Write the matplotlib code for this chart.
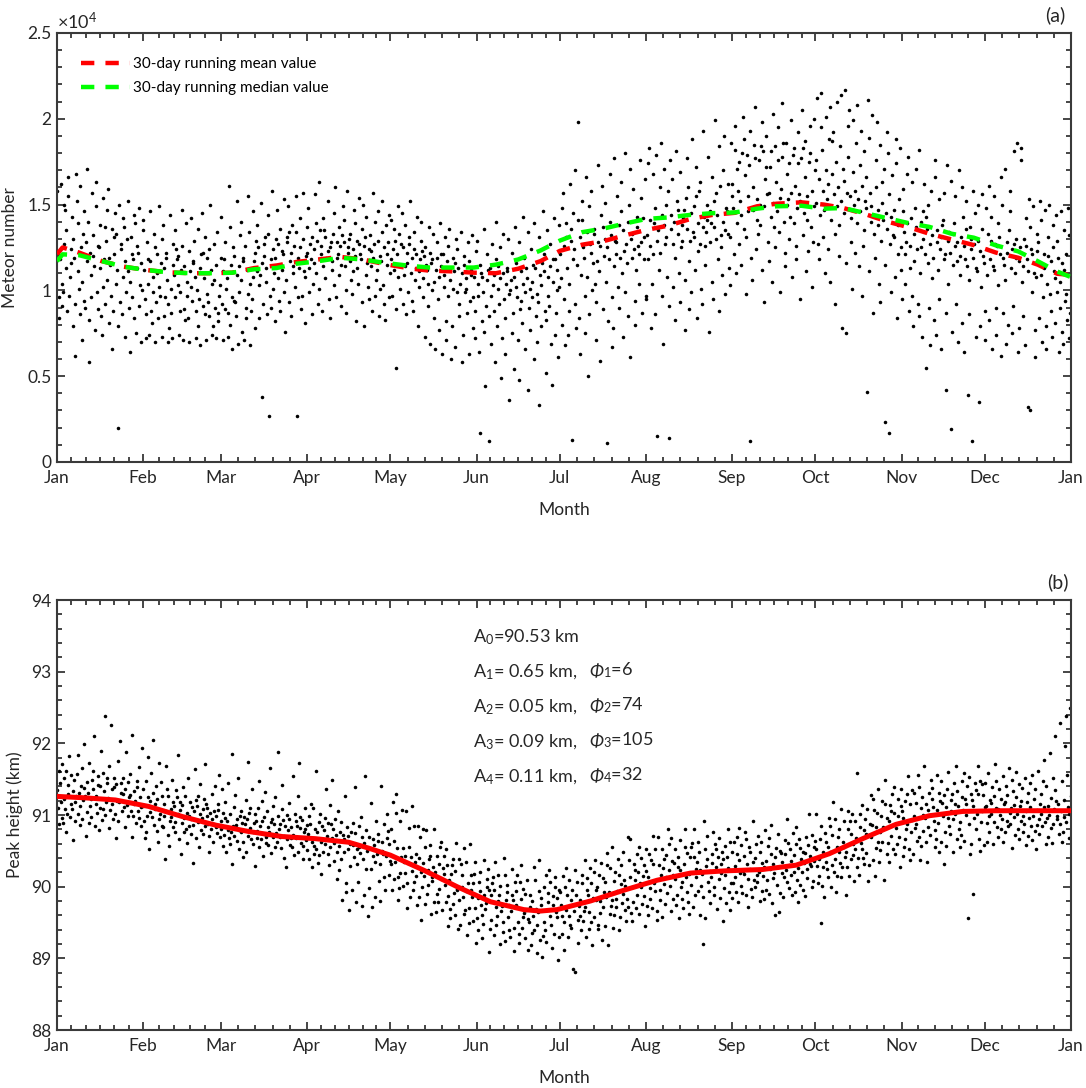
import itertools
import numpy as np
import matplotlib
matplotlib.use('Agg')
import matplotlib.pyplot as plt
from matplotlib.ticker import FixedLocator

plt.rcParams['font.family'] = ['Lato', 'DejaVu Sans']
plt.rcParams['mathtext.fontset'] = 'custom'
plt.rcParams['mathtext.rm'] = 'Lato'
plt.rcParams['mathtext.it'] = 'Lato:italic'

# month axis
month_starts = [0, 31, 59, 90, 120, 151, 181, 212, 243, 273, 304, 334, 365]
month_labels = ['Jan', 'Feb', 'Mar', 'Apr', 'May', 'Jun',
                'Jul', 'Aug', 'Sep', 'Oct', 'Nov', 'Dec', 'Jan']
minor_parts = [6, 5, 5, 6, 5, 6, 5, 5, 6, 5, 5, 5]

# (a) 30-day running mean / median (x10^4)
run_days = [0, 2, 8, 16, 24, 32, 40, 48, 55, 63, 71, 79, 86, 94, 102, 110, 118,
            127, 134, 142, 150, 158, 166, 174, 181, 189, 197, 204, 212, 220, 228,
            236, 244, 252, 259, 268, 276, 283, 291, 299, 307, 314, 322, 330, 338,
            346, 353, 360, 365]
run_mean = [1.21, 1.25, 1.22, 1.171, 1.138, 1.119, 1.105, 1.10, 1.10, 1.103, 1.13,
            1.145, 1.165, 1.18, 1.195, 1.18, 1.153, 1.128, 1.115, 1.111, 1.103, 1.10,
            1.126, 1.17, 1.23, 1.266, 1.288, 1.319, 1.352, 1.377, 1.416, 1.44, 1.452,
            1.49, 1.505, 1.513, 1.50, 1.48, 1.444, 1.40, 1.366, 1.33, 1.297, 1.264,
            1.22, 1.19, 1.15, 1.097, 1.09]
run_median = [1.17, 1.21, 1.205, 1.171, 1.138, 1.119, 1.105, 1.10, 1.10, 1.103, 1.123,
              1.13, 1.155, 1.17, 1.19, 1.18, 1.16, 1.143, 1.133, 1.133, 1.133, 1.15,
              1.18, 1.232, 1.29, 1.339, 1.361, 1.388, 1.416, 1.425, 1.44, 1.45, 1.454,
              1.476, 1.49, 1.493, 1.476, 1.48, 1.45, 1.42, 1.39, 1.37, 1.33, 1.307,
              1.262, 1.227, 1.17, 1.11, 1.077]

# (b) harmonic fit curve (km)
fit_days = [0, 10, 21, 33, 45, 57, 69, 81, 93, 105, 112, 120, 132, 144, 156, 168,
            174, 180, 192, 204, 216, 228, 240, 254, 266, 278, 290, 302, 314, 326,
            338, 352, 365]
fit_km = [91.26, 91.24, 91.21, 91.12, 90.98, 90.86, 90.77, 90.70, 90.67, 90.62,
          90.54, 90.44, 90.23, 90.00, 89.79, 89.68, 89.66, 89.68, 89.80, 89.95,
          90.09, 90.19, 90.22, 90.24, 90.30, 90.46, 90.67, 90.87, 90.99, 91.05,
          91.06, 91.06, 91.06]

fit_text = [r'A$_0$=90.53 km', r'A$_1$= 0.65 km,', r'A$_2$= 0.05 km,',
            r'A$_3$= 0.09 km,', r'A$_4$= 0.11 km,']
phase_text = ['', r'$_1$=6', r'$_2$=74', r'$_3$=105', r'$_4$=32']

# daily meteor counts, one row per day of year, in units of 100
counts_by_day = """
158 121 96 84
162 118 104 91
150 127 99 147
166 113 88 135
155 124 97 108
143 130 79 116
168 119 92 62
152 111 101 139
161 125 86 105
146 133 94 71
171 117 90 128
140 122 83 58
157 109 96 132
149 120 77 114
163 126 99 89
138 113 85 125
154 118 74 102
147 129 92 137
159 106 81 119
136 115 66 97
145 121 88 131
133 112 79 104
150 124 20 93
142 108 86 127
137 117 73 99
152 130 90 111
131 105 64 121
144 118 84 96
139 126 75 113
148 103 91 122
135 116 70 100
141 112 72 95
128 104 86 118
146 117 88 74
133 108 81 99
125 121 93 70
149 110 84 102
130 97 73 116
138 113 85 96
122 106 70 119
144 101 92 78
127 115 72 87
135 109 96 124
120 118 74 103
147 99 88 112
126 114 89 71
139 105 83 97
123 111 70 84
142 102 94 117
129 116 72 108
136 100 88 79
121 113 68 95
145 107 91 122
131 119 71 86
124 98 93 85
150 112 74 104
127 106 79 90
134 115 87 72
119 103 82 97
143 111 71 92
128 118 89 101
161 107 87 73
137 115 80 96
125 120 94 66
152 109 93 85
132 114 99 69
140 106 76 117
126 119 90 71
155 112 84 98
134 104 88 68
146 117 95 108
129 111 78 122
138 125 84 103
151 109 38 116
127 120 92 131
144 113 86 105
133 118 27 97
158 124 101 90
130 110 82 119
147 127 94 107
136 115 88 123
153 121 99 112
131 128 76 106
149 117 93 134
138 122 85 110
155 114 102 126
134 119 27 96
142 125 89 113
157 111 97 130
137 120 81 108
148 122 99 113
131 127 86 118
156 116 104 124
139 129 92 110
163 121 101 135
142 114 88 126
135 131 107 119
152 118 95 123
128 125 84 112
145 133 103 117
160 119 96 128
137 126 109 121
149 115 91 132
141 128 100 114
158 122 87 125
133 117 106 130
147 124 98 111
139 129 82 120
154 113 104 127
136 121 93 118
150 126 79 131
143 116 102 109
132 123 95 124
157 119 88 114
140 127 97 106
146 112 85 129
134 120 101 117
152 125 92 103
138 115 83 121
144 110 96 128
141 118 97 124
136 112 55 129
149 121 89 108
127 115 101 133
145 109 92 125
138 122 86 114
131 116 99 127
152 110 94 119
134 124 88 106
143 113 79 121
129 118 102 111
140 107 96 123
125 120 73 115
137 112 91 104
122 116 69 118
133 105 84 100
128 119 66 112
139 108 77 95
121 114 63 121
131 102 82 109
126 117 71 97
136 106 60 113
119 111 79 101
130 99 67 116
124 113 85 92
134 104 58 110
120 115 74 99
128 101 87 107
117 109 63 94
132 96 78 112
123 108 72 88
129 104 64 97
115 110 17 82
136 99 76 108
121 106 44 91
112 113 12 85
127 97 69 103
140 109 58 88
118 101 79 114
125 107 49 92
133 95 72 110
111 104 84 63
130 113 36 98
122 100 75 106
137 108 87 54
116 96 71 102
128 111 48 89
143 104 81 94
119 99 66 113
134 107 90 42
124 101 77 96
139 115 60 105
113 98 85 70
131 109 33 93
146 103 79 116
121 111 52 88
135 97 83 108
127 114 69 91
142 105 45 118
118 100 87 74
138 112 61 102
148 121 80 107
157 126 95 68
139 113 74 131
162 129 88 104
145 118 13 136
170 124 92 78
198 115 84 141
152 131 63 109
141 119 97 125
166 108 75 134
149 127 86 50
158 122 100 116
136 133 71 104
173 117 93 128
144 126 59 111
161 120 89 137
151 11 105 130
168 125 82 118
140 132 96 67
177 114 78 129
155 128 102 121
146 119 90 138
163 135 73 110
180 123 99 127
150 116 85 140
171 130 61 119
159 124 94 133
143 137 80 112
176 121 104 126
154 128 87 142
165 118 97 131
174 132 95 118
183 126 78 141
168 139 104 121
179 129 86 148
15 135 112 160
186 122 97 144
171 138 69 127
158 131 108 150
14 144 91 176
165 127 102 136
181 140 83 119
152 133 110 147
169 125 93 138
147 142 77 129
177 136 106 154
160 129 89 117
188 145 99 134
155 131 112 149
172 139 84 123
163 127 101 158
193 143 92 137
150 134 115 126
178 141 76 146
166 128 105 139
199 137 95 152
157 144 118 130
184 132 88 161
170 140 109 125
190 135 98 148
162 146 113 133
186 131 103 155
182 148 121 162
196 139 110 171
175 152 127 158
201 144 115 180
188 136 98 167
179 155 131 146
193 12 119 173
185 147 106 160
207 141 124 177
176 153 133 150
198 138 112 184
181 149 93 165
190 156 128 172
172 143 117 157
203 151 105 181
184 137 125 163
195 146 134 176
178 154 99 159
209 140 122 186
186 150 114 168
174 143 130 153
199 157 108 179
183 139 126 161
192 148 118 174
177 152 95 156
205 145 132 183
187 141 111 166
196 155 123 175
180 137 102 158
200 149 128 170
212 151 127 176
195 144 118 165
215 158 131 182
201 147 110 170
188 153 124 162
207 141 105 187
192 156 133 168
210 149 92 175
184 138 120 160
214 152 78 171
217 145 75 164
196 157 116 178
205 142 128 155
199 150 101 169
186 139 122 158
208 153 114 173
193 146 97 161
181 135 126 152
211 148 41 166
189 140 111 157
202 144 87 149
176 133 119 160
198 147 104 138
185 129 93 151
171 141 115 163
192 136 23 145
180 127 17 156
167 143 99 132
188 131 108 147
174 138 84 121
183 125 112 153
159 134 95 146
168 128 104 121
178 139 88 113
163 126 97 142
148 133 79 117
171 124 92 137
182 140 85 110
146 130 73 125
162 121 55 143
150 136 90 116
158 127 68 132
176 119 83 107
166 135 74 128
153 124 95 112
141 131 66 138
157 118 42 121
173 129 87 104
164 122 19 134
139 133 76 115
155 117 92 126
170 128 70 109
160 120 81 131
143 126 64 118
152 114 39 136
137 130 86 106
158 119 12 124
145 127 73 113
150 111 35 129
136 123 79 102
156 116 88 120
148 124 71 109
161 118 83 133
143 129 66 114
155 112 90 127
139 126 74 103
166 121 62 131
150 115 87 119
171 128 69 106
146 122 80 135
158 113 75 124
181 127 91 110
186 119 64 130
183 125 78 117
176 114 85 105
142 130 68 126
153 118 32 111
137 124 30 99
149 110 77 121
133 123 61 108
152 116 84 128
141 109 70 96
147 121 79 113
131 104 66 120
150 117 88 98
138 111 73 125
144 99 81 107
129 119 64 90
146 105 76 116
135 112 69 94
148 98 83 121
132 108 72 87
"""

# daily peak height, one row per day of year, in units of 0.01 km above 88 km
heights_by_day = """
335 310 362 287
318 344 296 371
352 322 289 308
329 361 301 276
342 315 383 297
308 334 265 356
326 349 292 318
357 302 331 384
313 341 286 365
338 321 399 294
304 346 327 271
331 312 373 289
349 297 322 362
316 336 284 410
327 355 303 342
341 310 390 279
309 333 293 359
352 318 438 300
324 345 282 369
336 307 315 425
301 339 294 352
343 320 376 268
318 331 291 403
329 352 306 344
311 337 283 388
346 314 325 298
305 328 357 270
333 299 316 412
320 348 289 339
296 325 367 305
337 311 284 393
312 291 347 268
298 325 276 381
319 304 359 252
286 331 297 405
308 278 341 316
294 322 263 373
327 301 285 346
283 315 299 238
306 336 272 368
291 309 326 257
318 283 349 297
277 312 290 335
302 325 266 384
289 307 318 245
314 276 296 339
281 303 327 261
299 318 284 352
273 294 311 233
305 286 321 364
290 313 268 327
279 301 343 256
296 322 274 308
284 299 315 371
271 310 288 249
303 281 329 294
287 306 262 341
275 298 316 283
292 269 307 356
281 303 257 336
296 272 318 248
268 291 344 279
302 277 260 385
285 311 271 232
264 294 328 286
299 279 253 351
276 306 289 242
288 263 321 297
271 295 249 374
303 282 266 310
259 289 337 276
292 268 301 229
278 310 255 348
266 284 319 291
297 273 243 332
283 261 305 270
258 290 276 366
294 269 313 247
275 287 256 325
262 299 281 388
287 254 270 309
271 293 240 342
300 266 284 227
279 258 317 295
255 283 268 355
291 272 302 244
268 249 285 327
282 297 261 373
257 276 293 239
286 265 310 281
274 251 299 238
262 288 227 315
281 257 310 246
253 276 233 362
290 263 244 301
266 248 285 218
279 296 259 337
245 271 230 289
287 255 314 268
261 280 236 349
294 249 272 211
257 276 223 305
272 239 290 182
248 266 205 326
283 253 192 271
260 229 276 168
242 289 196 258
275 252 178 339
256 232 206 284
269 247 173 297
238 261 189 355
279 250 159 224
254 225 198 270
266 243 171 317
235 258 186 292
273 246 208 264
250 231 180 340
262 287 213 245
243 268 195 301
259 236 216 278
232 281 196 318
264 211 303 235
214 254 330 181
241 219 291 198
307 234 201 254
243 170 305 219
282 205 233 256
186 242 222 312
207 284 195 235
174 246 285 215
221 270 186 240
153 280 233 199
256 215 176 279
238 190 223 202
258 162 243 208
228 178 281 214
190 243 221 164
255 197 232 179
211 262 168 226
202 243 179 218
145 230 253 187
209 169 218 156
239 191 230 176
261 195 160 222
197 141 239 181
232 147 200 217
162 254 186 167
205 234 132 194
170 217 149 260
185 152 205 196
121 218 170 235
156 184 207 139
194 174 221 161
237 148 188 129
200 211 169 177
225 141 195 109
205 188 154 213
171 132 235 196
147 180 159 217
120 201 166 188
137 240 173 151
203 181 124 217
158 193 140 174
224 130 188 166
206 142 181 110
194 217 151 175
134 183 121 206
158 197 143 230
163 128 190 167
111 209 151 155
118 171 188 135
227 159 140 180
209 107 169 147
194 126 237 164
131 184 175 102
199 151 216 139
168 191 123 179
159 206 146 223
134 174 115 187
199 157 165 214
130 184 98 195
159 193 134 175
215 112 151 199
167 188 130 226
146 181 159 209
85 174 196 143
81 166 223 188
154 207 173 122
217 159 181 140
205 166 237 152
130 196 172 212
164 226 141 189
151 205 118 184
220 158 181 237
141 199 195 146
233 180 163 216
125 193 212 172
145 247 185 207
162 230 119 192
226 173 182 255
160 208 143 220
194 171 239 183
204 157 217 140
230 190 249 177
167 209 201 152
237 183 269 172
213 163 266 199
178 231 209 152
246 188 223 170
205 256 162 220
199 240 176 215
145 230 253 187
213 173 222 160
246 198 237 183
271 205 170 232
210 154 252 194
166 269 230 182
216 195 253 157
239 204 226 176
280 213 191 244
223 166 259 201
236 183 217 268
175 233 211 252
188 227 156 241
265 199 223 183
232 170 255 207
247 193 280 214
179 241 218 162
261 203 256 171
224 241 188 280
213 194 234 263
161 223 201 248
120 291 218 185
238 229 156 253
206 271 194 222
245 177 233 213
260 200 277 188
228 169 241 252
211 219 268 184
238 152 249 232
198 257 216 177
280 241 193 226
205 263 167 248
229 205 263 184
214 246 193 270
237 219 282 178
222 201 258 191
218 243 189 276
232 211 266 172
225 249 197 255
210 234 186 291
240 217 260 199
221 206 271 180
233 248 194 262
215 228 183 279
236 209 257 196
224 245 190 268
212 231 177 286
241 219 160 254
227 203 165 273
219 250 191 247
235 214 265 185
223 207 246 294
230 252 198 261
217 236 188 275
244 221 259 193
226 210 283 179
238 254 202 266
220 233 195 249
247 225 270 187
231 212 258 301
243 229 199 272
236 256 208 264
229 302 205 253
150 266 238 215
284 228 248 201
263 186 275 235
296 224 213 255
249 200 284 230
318 221 238 272
215 256 295 192
233 281 248 269
213 309 228 263
242 292 189 256
280 227 249 306
215 273 238 291
259 208 302 244
268 227 291 252
358 240 217 283
261 301 252 314
231 279 240 294
208 274 309 247
272 328 230 288
286 237 322 269
254 307 215 283
303 263 234 336
276 298 251 319
210 283 316 263
296 246 349 282
261 314 292 235
329 271 306 253
288 339 245 303
282 323 259 298
228 313 336 270
296 256 305 243
329 281 320 266
354 288 253 315
293 237 335 277
282 331 246 299
317 264 356 288
270 310 339 237
300 278 325 257
369 296 263 316
307 234 331 283
349 272 300 323
255 311 291 338
279 356 267 307
248 320 331 289
298 347 263 317
231 328 311 277
337 296 257 360
321 273 306 285
344 248 329 294
316 266 369 302
281 334 312 255
348 290 325 272
307 358 264 322
300 341 156 316
245 330 353 287
312 190 321 259
344 296 335 281
368 302 267 329
306 250 348 290
343 258 311 328
312 289 344 263
298 321 276 358
317 302 339 259
290 326 310 371
309 283 348 270
322 300 281 336
295 315 262 354
318 291 340 276
303 328 285 365
287 310 349 254
314 297 333 272
301 325 280 360
292 312 343 267
320 299 276 338
305 288 352 258
296 318 271 331
311 284 345 265
299 322 278 356
286 307 337 252
316 295 273 362
302 329 284 348
290 311 259 377
313 296 341 270
300 324 282 386
288 309 261 352
319 298 335 410
295 316 273 429
306 287 348 262
297 321 277 397
311 290 356 438
302 327 268 449
"""

slot_orders = list(itertools.permutations(range(4)))


def day_table(text):
    # each row is one day; its values sit in separate slots within that day
    rows = [[int(v) for v in line.split()] for line in text.strip().splitlines()]
    days, vals = [], []
    for i, r in enumerate(rows):
        order = slot_orders[(i * 7) % len(slot_orders)]
        for k, v in enumerate(r):
            days.append(i + (order[k] + 0.5) / len(r))
            vals.append(v)
    return np.array(days), np.array(vals, dtype=float)


count_day, count_val = day_table(counts_by_day)
count_val = count_val * 100          # meteors per day
height_day, height_val = day_table(heights_by_day)
height_val = 88 + height_val / 100   # km

ink = '#262626'


def month_axis(ax):
    ax.set_xlim(0, 365)
    ax.set_xticks(month_starts)
    ax.set_xticklabels(month_labels)
    minor = []
    for i, n in enumerate(minor_parts):
        a, b = month_starts[i], month_starts[i + 1]
        minor += [a + (b - a) * k / n for k in range(1, n)]
    ax.xaxis.set_minor_locator(FixedLocator(minor))
    ax.tick_params(which='both', direction='in', top=True, right=True,
                   colors=ink, labelsize=12.5, width=1.2)
    ax.tick_params(which='major', length=6)
    ax.tick_params(which='minor', length=3.5)
    ax.tick_params(axis='x', which='major', pad=6)
    ax.tick_params(axis='y', which='major', pad=4)
    for s in ax.spines.values():
        s.set_linewidth(1.5)
        s.set_color('#3a3a3a')
    ax.set_xlabel('Month', fontsize=12.5, color=ink)
    ax.xaxis.set_label_coords(0.5, -0.093)


fig = plt.figure(figsize=(10.86, 10.88), dpi=100)
ax1 = fig.add_axes([0.0525, 0.5754, 0.9337, 0.3943])
ax2 = fig.add_axes([0.0525, 0.0533, 0.9337, 0.3952])

# panel (a)
ax1.scatter(count_day, count_val / 1e4, s=6.5, c='black', linewidths=0, zorder=2)
ax1.plot(run_days, run_mean, color='red', lw=3.2, dashes=(3, 2.5),
         label='30-day running mean value', zorder=3)
ax1.plot(run_days, run_median, color='#00ff00', lw=3.2, dashes=(3, 2.5),
         label='30-day running median value', zorder=4)
ax1.set_ylim(0, 2.5)
ax1.set_yticks([0, 0.5, 1, 1.5, 2, 2.5])
ax1.set_yticklabels(['0', '0.5', '1', '1.5', '2', '2.5'])
ax1.yaxis.set_minor_locator(FixedLocator(np.arange(0, 2.51, 0.1)))
month_axis(ax1)
ax1.set_ylabel('Meteor number', fontsize=12.5, color=ink)
ax1.yaxis.set_label_coords(-0.038, 0.5)
ax1.text(0.0, 1.003, r'$\times10^4$', transform=ax1.transAxes, fontsize=13,
         color=ink, ha='left', va='bottom')
ax1.text(0.984, 1.042, '(a)', transform=ax1.transAxes, fontsize=14,
         color=ink, ha='center', va='center')
ax1.legend(loc='upper left', frameon=False, fontsize=11, handlelength=3.2,
           borderaxespad=1.2, labelspacing=0.65, handletextpad=0.2)

# panel (b)
ax2.scatter(height_day, height_val, s=6.5, c='black', linewidths=0, zorder=2)
ax2.plot(fit_days, fit_km, color='red', lw=3.6, zorder=3)
ax2.set_ylim(88, 94)
ax2.set_yticks(range(88, 95))
ax2.yaxis.set_minor_locator(FixedLocator(np.arange(88, 94.01, 0.2)))
month_axis(ax2)
ax2.set_ylabel('Peak height (km)', fontsize=12.5, color=ink)
ax2.yaxis.set_label_coords(-0.034, 0.5)
ax2.text(0.987, 1.042, '(b)', transform=ax2.transAxes, fontsize=14,
         color=ink, ha='center', va='center')
rows_base = [0.902, 0.821, 0.740, 0.658, 0.577]
for y, a_txt, p_txt in zip(rows_base, fit_text, phase_text):
    ax2.text(0.41, y, a_txt, transform=ax2.transAxes, fontsize=13, color=ink,
             ha='left', va='baseline')
    if p_txt:
        phi = ax2.text(0.525, y, 'Φ', transform=ax2.transAxes, fontsize=13,
                       color=ink, ha='left', va='baseline', style='italic')
        ax2.annotate(p_txt, xy=(1, 0), xycoords=phi, fontsize=13, color=ink,
                     ha='left', va='bottom')

fig.savefig('out.png', dpi=100)
